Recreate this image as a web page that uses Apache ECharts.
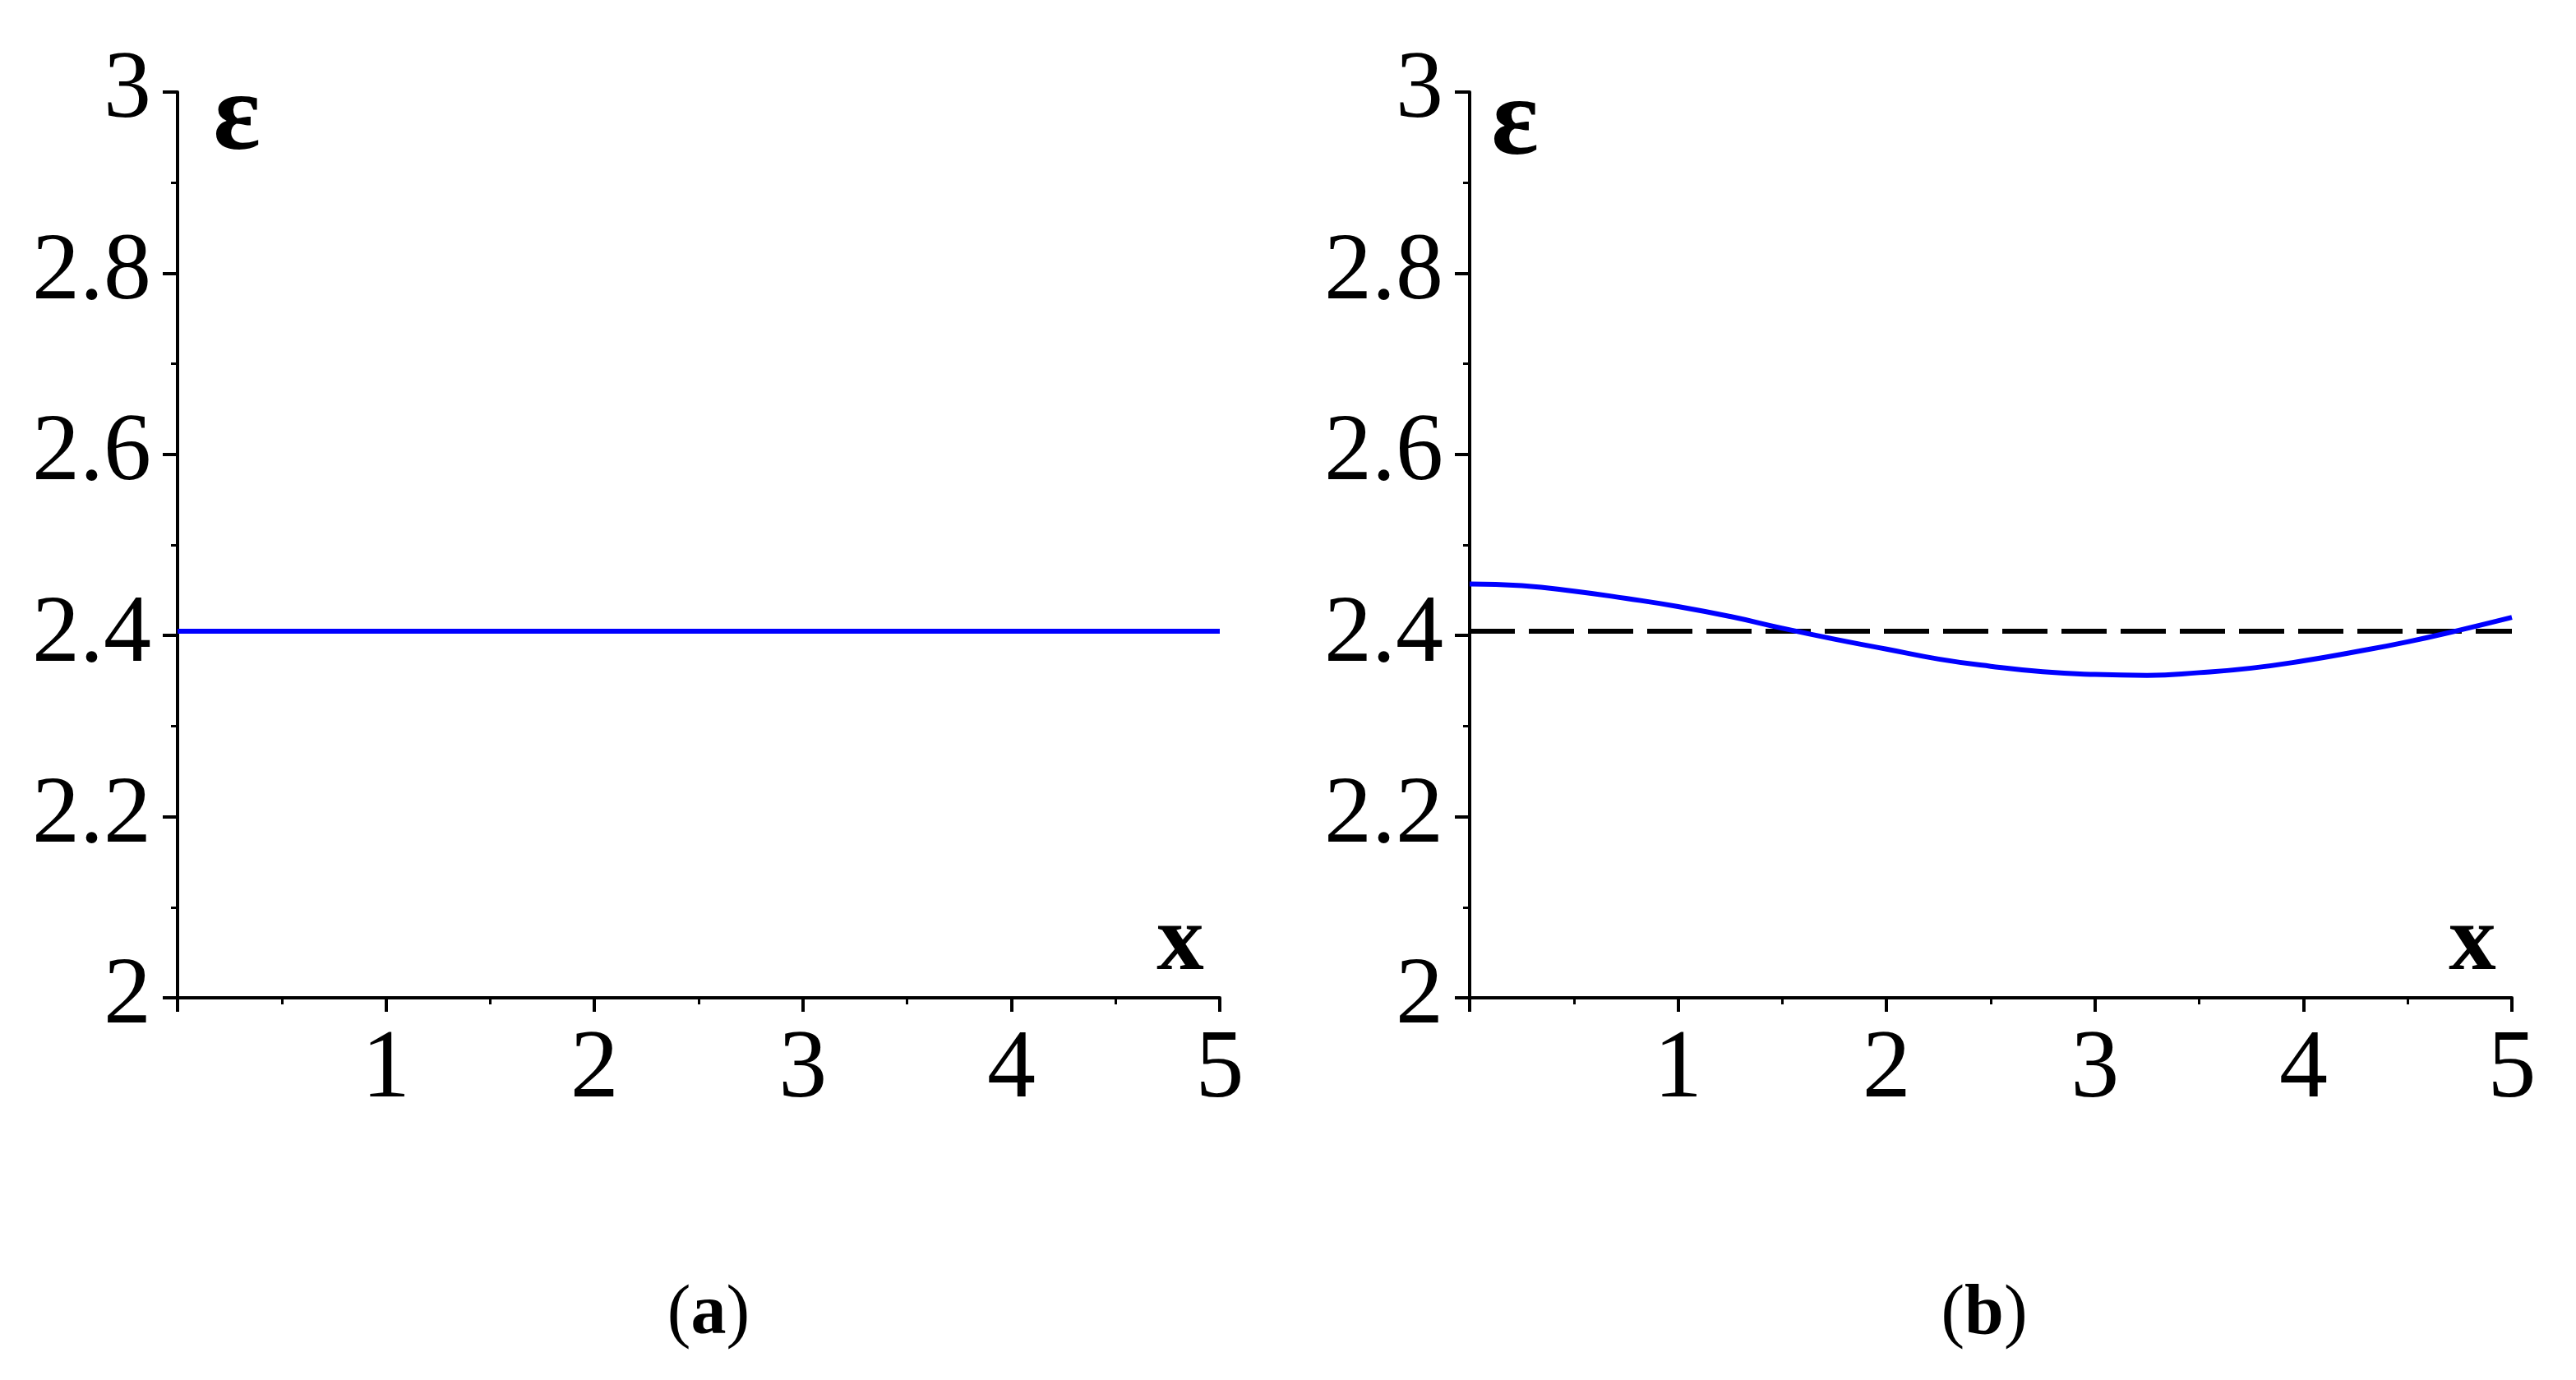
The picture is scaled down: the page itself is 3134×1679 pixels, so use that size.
<!DOCTYPE html>
<html><head><meta charset="utf-8">
<script src="https://cdn.jsdelivr.net/npm/echarts@6/dist/echarts.min.js"></script>
<style>html,body{margin:0;padding:0;background:#fff}#c{width:3134px;height:1679px}</style>
</head><body><div id="c"></div>
<script>
// Panel (a): constant eigenvalue
const epsA_x = [0, 5];
const epsA_y = [2.4048, 2.4048];
// Panel (b): perturbed eigenvalue curve
const epsB_x = [0, 0.25, 0.5, 0.75, 1, 1.25, 1.5, 1.75, 2, 2.25, 2.5, 2.75, 3, 3.25, 3.5, 3.75, 4, 4.25, 4.5, 4.75, 5];
const epsB_y = [2.457, 2.455, 2.449, 2.441, 2.432, 2.421, 2.408, 2.396, 2.385, 2.374, 2.366, 2.360, 2.357, 2.356, 2.359, 2.364, 2.372, 2.382, 2.393, 2.406, 2.420];
// Panel (b): dashed reference level
const refB_x = [0, 5];
const refB_y = [2.4048, 2.4048];
const xTickLabels = ['', '1', '2', '3', '4', '5'];
const yTickLabels = ['2', '2.2', '2.4', '2.6', '2.8', '3'];
const captions = ['a', 'b'];

const FONT = 'Liberation Serif';
const pairs = (xs, ys) => xs.map((x, i) => [x, ys[i]]);

function xAxisCfg(gi) {
  return {
    type: 'value', gridIndex: gi, min: 0, max: 5, interval: 1,
    axisLine: {onZero: false, lineStyle: {color: '#000', width: 4}},
    axisTick: {length: 17, lineStyle: {color: '#000', width: 4}},
    minorTick: {show: true, splitNumber: 2, length: 8, lineStyle: {color: '#000', width: 3}},
    splitLine: {show: false},
    axisLabel: {fontFamily: FONT, fontSize: 118, color: '#000', margin: 30,
      formatter: v => xTickLabels[Math.round(v)]}
  };
}
function yAxisCfg(gi) {
  return {
    type: 'value', gridIndex: gi, min: 2, max: 3, interval: 0.2,
    axisLine: {onZero: false, lineStyle: {color: '#000', width: 4}},
    axisTick: {length: 18, lineStyle: {color: '#000', width: 4}},
    minorTick: {show: true, splitNumber: 2, length: 8, lineStyle: {color: '#000', width: 3}},
    splitLine: {show: false},
    axisLabel: {fontFamily: FONT, fontSize: 116, color: '#000', margin: 32,
      formatter: v => yTickLabels[Math.round((v - 2) / 0.2)]}
  };
}

const chart = echarts.init(document.getElementById('c'));
const option = {
  animation: false,
  backgroundColor: '#fff',
  grid: [
    {left: 216, top: 112, width: 1268, height: 1102},
    {left: 1788, top: 112, width: 1268, height: 1102}
  ],
  xAxis: [xAxisCfg(0), xAxisCfg(1)],
  yAxis: [yAxisCfg(0), yAxisCfg(1)],
  series: [
    {type: 'line', xAxisIndex: 0, yAxisIndex: 0, data: pairs(epsA_x, epsA_y), showSymbol: false,
      lineStyle: {color: '#0000ff', width: 6}},
    {type: 'line', xAxisIndex: 1, yAxisIndex: 1, data: pairs(refB_x, refB_y), showSymbol: false,
      lineStyle: {color: '#000', width: 6, type: [55, 17]}},
    {type: 'line', xAxisIndex: 1, yAxisIndex: 1, data: pairs(epsB_x, epsB_y), showSymbol: false, smooth: true,
      lineStyle: {color: '#0000ff', width: 6}}
  ],
  graphic: [
    {type: 'text', x: 288, y: 146, style: {text: 'ε', font: 'bold 135px "Liberation Serif"', fill: '#000', align: 'center', verticalAlign: 'middle'}},
    {type: 'text', x: 1843, y: 152, style: {text: 'ε', font: 'bold 135px "Liberation Serif"', fill: '#000', align: 'center', verticalAlign: 'middle'}},
    {type: 'text', x: 1436, y: 1149, style: {text: 'x', font: 'bold 115px "Liberation Serif"', fill: '#000', align: 'center', verticalAlign: 'middle'}},
    {type: 'text', x: 3008, y: 1149, style: {text: 'x', font: 'bold 115px "Liberation Serif"', fill: '#000', align: 'center', verticalAlign: 'middle'}},
    ...captions.map((c, i) => ({
      type: 'text', x: i === 0 ? 862 : 2414, y: 1600,
      style: {
        text: '{n|(}{b|' + c + '}{n|)}', align: 'center', verticalAlign: 'middle',
        rich: {
          n: {fontFamily: FONT, fontSize: 86, fill: '#000'},
          b: {fontFamily: FONT, fontSize: 86, fontWeight: 'bold', fill: '#000'}
        }
      }
    }))
  ]
};
chart.setOption(option);
</script></body></html>
